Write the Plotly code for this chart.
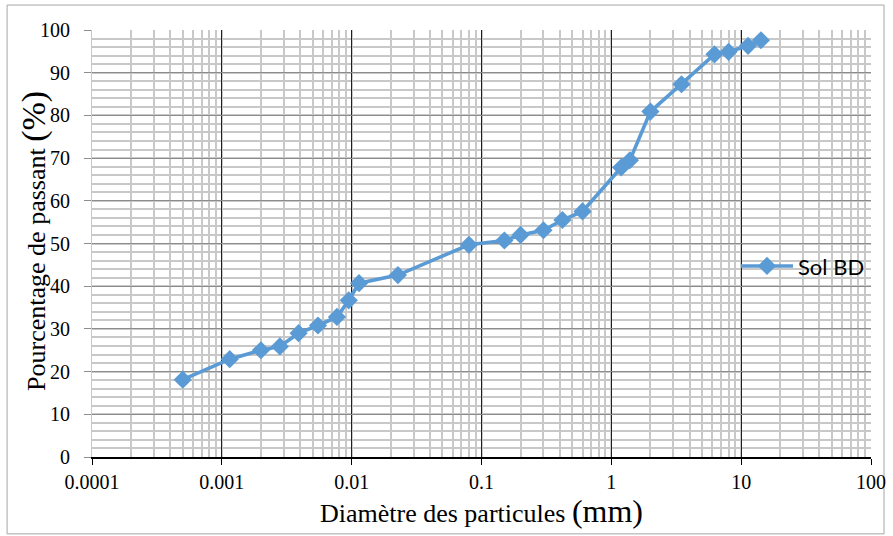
import plotly.graph_objects as go

# Particle size distribution (sieve + sedimentation)
diametre_mm = [0.0005, 0.00115, 0.002, 0.0028, 0.0039, 0.0055, 0.0077, 0.0095, 0.0114,
               0.0227, 0.08, 0.15, 0.2, 0.3, 0.42, 0.6, 1.19, 1.39, 2.0, 3.47, 6.23,
               8.0, 11.3, 14.2]
passant_pct = [18.1, 22.9, 25.0, 25.9, 29.0, 30.8, 32.8, 36.7, 40.7,
               42.6, 49.7, 50.7, 52.0, 53.1, 55.5, 57.5, 67.8, 69.5, 80.9, 87.3, 94.3,
               94.9, 96.3, 97.6]
serie_nom = "Sol BD"

x_ticks = [0.0001, 0.001, 0.01, 0.1, 1, 10, 100]
x_ticklabels = ["0.0001", "0.001", "0.01", "0.1", "1", "10", "100"]
y_ticks = list(range(0, 101, 10))

serif = "Liberation Serif, Times New Roman, serif"
blue = "#5B9BD5"

fig = go.Figure()
fig.add_trace(go.Scatter(
    x=diametre_mm, y=passant_pct, name=serie_nom,
    mode="lines+markers",
    line=dict(color=blue, width=3.6),
    marker=dict(symbol="diamond", size=14, color=blue),
))

fig.update_layout(
    width=893, height=536,
    paper_bgcolor="white", plot_bgcolor="white",
    margin=dict(l=92, r=22, t=30, b=79, autoexpand=False),
    showlegend=True,
    legend=dict(x=0.8267, y=0.447, xanchor="left", yanchor="middle",
                font=dict(family="Lato, Carlito, Calibri, sans-serif", size=22, color="#000"),
                bgcolor="rgba(0,0,0,0)", itemwidth=52),
)

fig.update_xaxes(
    type="log", range=[-4, 2], automargin=False,
    tickvals=x_ticks, ticktext=x_ticklabels,
    tickfont=dict(family=serif, size=20, color="#000"),
    ticks="outside", ticklen=6, tickcolor="#000", tickwidth=1.2,
    ticklabelstandoff=0,
    showline=True, linecolor="#000", linewidth=1.6,
    showgrid=True, gridcolor="#1f1f1f", gridwidth=1.4,
    minor=dict(dtick="D1", showgrid=True, gridcolor="#c8c8c8", gridwidth=1.5, ticks=""),
    title=dict(text="Diamètre des particules <span style='font-size:32px'>(mm)</span>",
               font=dict(family=serif, size=26, color="#000"), standoff=12),
)
fig.update_yaxes(
    range=[0, 100], tickvals=y_ticks, automargin=False,
    tickfont=dict(family=serif, size=20, color="#000"),
    ticks="outside", ticklen=7, tickcolor="#8c8c8c", tickwidth=1,
    ticklabelstandoff=10,
    showline=True, linecolor="#c8c8c8", linewidth=1,
    showgrid=True, gridcolor="#8c8c8c", gridwidth=1.3,
    minor=dict(dtick=2, showgrid=True, gridcolor="#c8c8c8", gridwidth=1.5, ticks=""),
    zeroline=False,
)

# vertical axis title
fig.add_annotation(
    text="Pourcentage de passant <span style='font-size:34px'>(%)</span>",
    xref="paper", yref="paper", x=-0.0745, y=0.506,
    xanchor="center", yanchor="middle", textangle=-90, showarrow=False,
    font=dict(family=serif, size=26, color="#000"),
)

# chart-area frame
fig.add_shape(type="rect", xref="paper", yref="paper",
              x0=-0.109, x1=1.0167, y0=-0.180, y1=1.0585,
              line=dict(color="#a6a6a6", width=1), fillcolor="rgba(0,0,0,0)", layer="below")

fig.write_html("out.html")
